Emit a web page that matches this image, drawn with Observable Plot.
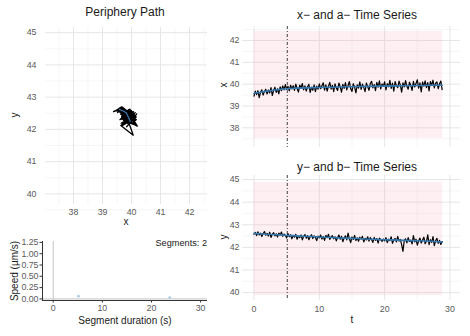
<!DOCTYPE html>
<html><head><meta charset="utf-8">
<script src="https://cdn.jsdelivr.net/npm/d3@7"></script>
<script src="https://cdn.jsdelivr.net/npm/@observablehq/plot@0.6"></script>
<style>
body{margin:0;width:470px;height:336px;position:relative;overflow:hidden;background:#fff;font-family:"Liberation Sans",Arial,sans-serif}
.p{position:absolute}
.lab{position:absolute;white-space:nowrap;color:#1a1a1a;line-height:1}
</style></head><body>
<script>
// ---- data ----
const sampleStep = 0.2; // seconds between samples
const xSeries = [
39.45,39.68,39.52,39.70,39.38,39.63,39.74,39.50,39.66,39.77,
39.55,39.73,39.60,39.84,39.48,39.71,39.86,39.62,39.79,39.56,
39.88,39.70,39.92,39.74,39.98,39.76,39.90,39.69,39.95,39.78,
39.93,39.71,40.00,39.80,39.64,39.96,39.82,40.03,39.74,39.92,
39.68,39.88,39.99,39.62,39.86,39.72,39.97,39.66,39.91,39.77,
40.01,39.79,39.93,40.06,39.73,39.97,39.68,39.90,40.08,39.77,
39.95,39.66,40.01,39.83,39.71,40.05,39.88,39.63,39.99,39.81,
40.07,39.74,39.94,40.12,39.79,39.67,40.02,39.86,39.60,39.97,
39.82,40.10,39.76,40.00,39.85,39.66,40.05,39.89,39.72,40.03,
40.13,39.83,39.98,39.70,40.08,39.86,40.15,39.78,40.01,39.90,
40.11,39.74,40.02,39.88,40.17,39.81,40.05,39.68,40.12,39.93,
39.84,40.14,39.96,39.63,40.06,39.87,40.16,39.90,39.77,40.09,
39.95,39.71,40.13,39.87,40.03,40.20,39.82,40.06,39.64,40.10,
39.91,40.15,39.84,40.07,39.69,40.12,39.95,40.18,39.83,40.04,
40.10,39.79,40.02,40.14,39.75];
const ySeries = [
42.58,42.66,42.52,42.69,42.55,42.63,42.48,42.61,42.70,42.54,
42.62,42.50,42.67,42.44,42.58,42.65,42.51,42.60,42.46,42.63,
42.55,42.68,42.49,42.59,42.53,42.42,42.61,42.47,42.56,42.38,
42.52,42.45,42.58,42.36,42.50,42.43,42.55,42.33,42.49,42.57,
42.41,42.52,42.34,42.47,42.56,42.39,42.51,42.44,42.30,42.50,
42.42,42.55,42.37,42.48,42.31,42.53,42.43,42.58,42.35,42.46,
42.52,42.38,42.47,42.29,42.44,42.55,42.36,42.49,42.25,42.42,
42.51,42.33,42.63,42.38,42.21,42.46,42.35,42.53,42.30,42.42,
42.27,42.45,42.36,42.49,42.24,42.40,42.33,42.47,42.28,42.43,
42.35,42.22,42.44,42.31,42.39,42.19,42.41,42.34,42.26,42.37,
42.29,42.43,42.21,42.36,42.30,42.47,42.18,42.33,42.40,42.24,
42.49,42.28,42.35,42.12,41.82,42.30,42.38,42.20,42.43,42.26,
42.32,42.15,42.52,42.24,42.36,42.10,42.28,42.41,42.19,42.33,
42.45,42.16,42.27,42.55,42.12,42.34,42.22,42.48,42.08,42.29,
42.40,42.18,42.31,42.13,42.26];
const smoothT = [0,1,2,3,4,5,6,7,8,9,10,11,12,13,14,15,16,17,18,19,20,21,22,23,24,25,26,27,28.8];
const aSeries = [39.58,39.63,39.68,39.72,39.76,39.79,39.81,39.82,39.83,39.84,39.85,39.86,39.86,39.87,39.88,39.88,39.89,39.90,39.90,39.91,39.91,39.92,39.92,39.93,39.93,39.94,39.94,39.95,39.95];
const bSeries = [42.62,42.60,42.58,42.57,42.55,42.53,42.52,42.50,42.49,42.48,42.46,42.45,42.44,42.42,42.41,42.40,42.39,42.37,42.36,42.35,42.34,42.33,42.32,42.31,42.30,42.29,42.28,42.27,42.24];
const changeTime = 5.1;
const windowT = [0, 28.9];
const windowX = [37.52, 42.42];
const windowY = [39.87, 44.88];
const segDuration = [5.15, 23.7];
const segSpeed = [0.06, 0.03];
const segCount = 2;
const pathXTicks = [38,39,40,41,42], pathYTicks = [40,41,42,43,44,45];
const tsTicks = [0,10,20,30], xTsTicks = [38,39,40,41,42], yTsTicks = [40,41,42,43,44,45];
const speedXTicks = [0,10,20,30], speedYTicks = [0,0.25,0.5,0.75,1,1.25];

// ---- tables ----
const series = xSeries.map((x,i)=>({t:i*sampleStep, x, y:ySeries[i]}));
const smooth = smoothT.map((t,i)=>({t, a:aSeries[i], b:bSeries[i]}));
const segs = segDuration.map((d,i)=>({d, s:segSpeed[i]}));

const FONT = '"Liberation Sans", Arial, sans-serif';
const style = {fontFamily:FONT, fontSize:"8.8px", color:"#5a5a5a", background:"transparent", overflow:"visible"};
const MAJ = {stroke:"#e6e6e6", strokeOpacity:1, strokeWidth:1};
const MIN = {stroke:"#f0f0f0", strokeOpacity:1, strokeWidth:0.6};
const INT = d3.format("d");
const halves = (lo,hi)=>{const r=[];for(let v=lo;v<=hi+1e-9;v+=0.5) if(Math.abs(v-Math.round(v))>0.1) r.push(v);return r;};
const tMinor = [5,15,25];

function place(el,left,top){el.classList.add("p");el.style.left=left+"px";el.style.top=top+"px";document.body.appendChild(el);}
function label(txt,x,y,size,opts={}){
  const d=document.createElement("div");d.className="lab";d.textContent=txt;
  d.style.left=x+"px";d.style.top=y+"px";d.style.fontSize=size+"px";
  const tx=opts.right?"-100%":"-50%";
  d.style.transform=`translate(${tx},-50%)`+(opts.rot?" rotate(-90deg)":"");
  document.body.appendChild(d);
}

// ---- Periphery path ----
place(Plot.plot({
  width:235,height:230,marginLeft:45,marginRight:28,marginTop:27,marginBottom:26,
  x:{domain:[37.034,42.62],axis:null,label:null}, y:{domain:[39.67,45.16],axis:null,label:null}, style,
  marks:[
    Plot.gridX(halves(37,42.6),MIN), Plot.gridY(halves(39.5,45.1),MIN),
    Plot.gridX(pathXTicks,MAJ), Plot.gridY(pathYTicks,MAJ),
    Plot.axisX({ticks:pathXTicks,tickSize:0,tickPadding:4,tickFormat:INT,label:null}),
    Plot.axisY({ticks:pathYTicks,tickSize:0,tickPadding:9,tickFormat:INT,label:null}),
    Plot.line(series,{x:"x",y:"y",stroke:"#000",strokeWidth:1.3}),
    Plot.line(smooth,{x:"a",y:"b",stroke:"#3579b1",strokeWidth:1.2})
  ]
}),0,0);
label("Periphery Path",125,12,12);
label("x",126,222,10);
label("y",15,115,10,{rot:true});

// ---- Speed ----
place(Plot.plot({
  width:235,height:106,marginLeft:42,marginRight:28,marginTop:11,marginBottom:36,
  x:{domain:[-2.18,31.4],axis:null,label:null}, y:{domain:[-0.035,1.27],axis:null,label:null}, style,
  marks:[
    Plot.ruleX([0],{stroke:"#c4c4c4",strokeWidth:1}),
    Plot.ruleY([0],{stroke:"#c4c4c4",strokeWidth:1}),
    Plot.ruleX([-2.18],{stroke:"#333",strokeWidth:1}),
    Plot.ruleY([-0.035],{stroke:"#333",strokeWidth:1}),
    Plot.axisX({ticks:speedXTicks,tickSize:2.5,tickPadding:2,stroke:"#333",tickFormat:INT,label:null}),
    Plot.axisY({ticks:speedYTicks,tickSize:2.5,tickPadding:1.5,stroke:"#333",tickFormat:d3.format(".2f"),label:null}),
    Plot.dot(segs,{x:"d",y:"s",r:1.4,fill:"#aecde6",stroke:null})
  ]
}),0,230);
label(`Segments: ${segCount}`,207,244,9.2,{right:true});
label("Speed (µm/s)",15,271,10,{rot:true});
label("Segment duration (s)",125,321,10);

// ---- time series ----
function ts(valKey, smoothKey, ydom, yticks, win, showX){
  return Plot.plot({
    width:260,height:showX?171:165,marginLeft:32,marginRight:10,
    marginTop:showX?10:26,marginBottom:showX?36:18,
    x:{domain:[-1.76,31.61],axis:null,label:null}, y:{domain:ydom,axis:null,label:null}, style,
    marks:[
      Plot.gridX(tMinor,MIN), Plot.gridY(halves(Math.floor(ydom[0]),ydom[1]).filter(v=>v>ydom[0]),MIN),
      Plot.gridX(tsTicks,MAJ), Plot.gridY(yticks,MAJ),
      Plot.rect([{}],{x1:()=>windowT[0],x2:()=>windowT[1],y1:()=>win[0],y2:()=>win[1],fill:"#f7a0b4",fillOpacity:0.17}),
      showX?Plot.axisX({ticks:tsTicks,tickSize:0,tickPadding:5,tickFormat:INT,label:null}):null,
      Plot.axisY({ticks:yticks,tickSize:0,tickPadding:3,tickFormat:INT,label:null}),
      Plot.ruleX([changeTime],{stroke:"#333",strokeWidth:0.9,strokeDasharray:"3,2,1,2"}),
      Plot.line(series,{x:"t",y:valKey,stroke:"#000",strokeWidth:1.2}),
      Plot.line(smooth,{x:"t",y:smoothKey,stroke:"#3579b1",strokeWidth:1.6})
    ].filter(Boolean)
  });
}
place(ts("x","a",[37.1,42.64],xTsTicks,windowX,false),210,0);
label("x\u2212 and a\u2212 Time Series",357,15,12);
label("x",224,85,10,{rot:true});
place(ts("y","b",[39.65,45.18],yTsTicks,windowY,true),210,165);
label("y\u2212 and b\u2212 Time Series",357,167,12);
label("y",224,237,10,{rot:true});
label("t",352,320,10);
</script>
</body></html>
